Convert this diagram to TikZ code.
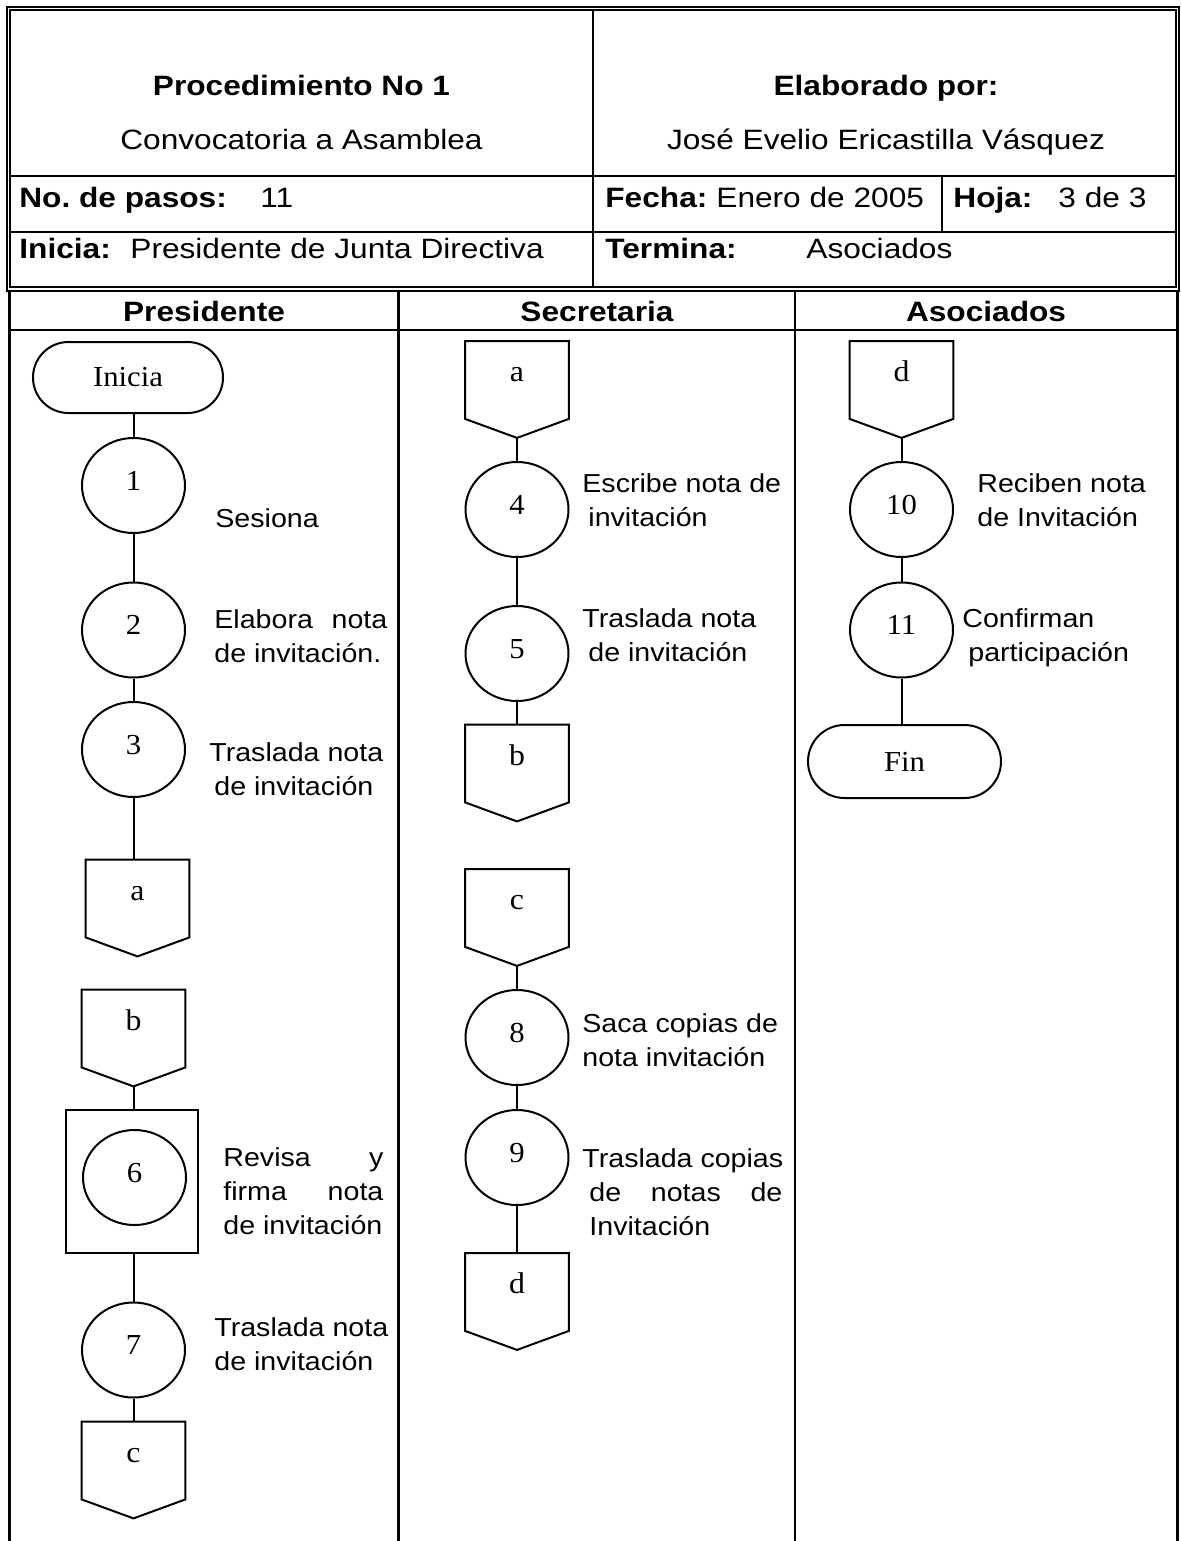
\documentclass[tikz,border=0pt]{standalone}
\usepackage{fontspec}
\setmainfont{Liberation Sans}
\newfontfamily\hdfont{Liberation Sans}[FakeStretch=1.13]
\newfontfamily\lanefont{Liberation Sans}[FakeStretch=1.1]
\newfontfamily\serfont{Liberation Serif}[FakeStretch=1.06]
\usetikzlibrary{shapes.geometric,shapes.misc}
\frenchspacing
\begin{document}
\begin{tikzpicture}[x=0.5pt,y=-0.5pt,
  tline/.style={line width=1.3pt},
  dline/.style={line width=1pt},
  shp/.style={line width=1pt},
  hd/.style={font=\hdfont\fontsize{14}{17}\selectfont, inner sep=0pt, text height=10pt, text depth=0pt},
  hdb/.style={hd, font=\hdfont\bfseries\fontsize{14}{17}\selectfont},
  stp/.style={ellipse, draw, line width=1pt, minimum width=51.5pt, minimum height=47.5pt, inner sep=0pt,
    font=\serfont\fontsize{14.5}{17}\selectfont, text depth=5pt},
  term/.style={rounded rectangle, draw, line width=1pt, minimum width=95pt, minimum height=35.5pt, inner sep=0pt,
    font=\serfont\fontsize{14.5}{17}\selectfont},
  offpg/.style={rectangle, minimum width=51.5pt, minimum height=48pt, inner sep=0pt,
    font=\serfont\fontsize{15}{17}\selectfont, text height=10pt, text depth=18pt},
  dsc/.style={font=\lanefont\fontsize{13}{17}\selectfont, align=left, anchor=north west, inner sep=0pt}
]
\useasboundingbox (0,0) rectangle (1181,1541);
\fill[white] (0,0) rectangle (1181,1541);

% header frame
\draw[dline] (6.5,7) rectangle (1179,290.5);
\draw[dline] (10,10.5) rectangle (1175.5,287);
\draw[tline] (593,10.5) -- (593,287);
\draw[tline] (10,176) -- (1175.5,176);
\draw[tline] (10,232) -- (1175.5,232);
\draw[tline] (942,176) -- (942,232);

% swimlanes
\draw[tline] (9.5,290.5) -- (9.5,1541);
\draw[tline] (1177.5,290.5) -- (1177.5,1541);
\draw[tline] (9.5,330) -- (1177.5,330);
\draw[tline] (398.5,290.5) -- (398.5,1541);
\draw[tline] (795,290.5) -- (795,1541);

% header texts
\node[hdb] (t1) at (301.5,86) {Procedimiento No 1};
\node[hd] (t2) at (301.5,139) {Convocatoria a Asamblea};
\node[hdb] (t3) at (886,86) {Elaborado por:};
\node[hd] (t4) at (886,139) {José Evelio Ericastilla Vásquez};
\node[hdb, anchor=west] (t5) at (19,197) {No. de pasos:};
\node[hd, anchor=west] (t6) at (260,197) {11};
\node[hdb, anchor=west] (t7) at (605,197) {Fecha:};
\node[hd, anchor=west] (t8) at (716,197) {Enero de 2005};
\node[hdb, anchor=west] (t9) at (953,197) {Hoja:};
\node[hd, anchor=west] (t10) at (1058,197) {3 de 3};
\node[hdb, anchor=west] (t11) at (19,248) {Inicia:};
\node[hd, anchor=west] (t12) at (130,248) {Presidente de Junta Directiva};
\node[hdb, anchor=west] (t13) at (605,248) {Termina:};
\node[hd, anchor=west] (t14) at (806,248) {Asociados};
\node[hdb] (l1) at (204,311) {Presidente};
\node[hdb] (l2) at (597,311) {Secretaria};
\node[hdb] (l3) at (986,311) {Asociados};

% Presidente lane
\node[term] (start) at (128,377.5) {Inicia};
\node[stp] (p1) at (133.5,485.5) {1};
\node[stp] (p2) at (133.5,630) {2};
\node[stp] (p3) at (133.5,749.5) {3};
\node[offpg] (pa) at (137.5,908) {a};
\node[offpg] (pb) at (133.5,1038) {b};
\node[draw, shp, minimum width=66pt, minimum height=71.5pt, inner sep=0pt] (p6box) at (132,1181.5) {};
\node[stp] (p6) at (134.5,1177.5) {6};
\node[stp] (p7) at (133.5,1350) {7};
\node[offpg] (pc) at (133.5,1470) {c};

\draw[shp] (start.south -| p1) -- (p1.north);
\draw[shp] (p1.south) -- (p2.north);
\draw[shp] (p2.south) -- (p3.north);
\draw[shp] (p3.south) -- (p3.south |- pa.north);
\draw[shp] (pb.south) -- (pb.south |- p6box.north);
\draw[shp] (p6box.south -| p7) -- (p7.north);
\draw[shp] (p7.south) -- (p7.south |- pc.north);

% Secretaria lane
\node[offpg] (sa) at (517,389.5) {a};
\node[stp] (s4) at (517,509.5) {4};
\node[stp] (s5) at (517,653.5) {5};
\node[offpg] (sb) at (517,773) {b};
\node[offpg] (sc) at (517,917.5) {c};
\node[stp] (s8) at (517,1037.5) {8};
\node[stp] (s9) at (517,1157.5) {9};
\node[offpg] (sd) at (517,1301.5) {d};

\draw[shp] (sa.south) -- (s4.north);
\draw[shp] (s4.south) -- (s5.north);
\draw[shp] (s5.south) -- (sb.north);
\draw[shp] (sc.south) -- (s8.north);
\draw[shp] (s8.south) -- (s9.north);
\draw[shp] (s9.south) -- (sd.north);

% Asociados lane
\node[offpg] (ad) at (901.5,389.5) {d};
\node[stp] (a10) at (901.5,509.5) {10};
\node[stp] (a11) at (901.5,630) {11};
\node[term, minimum width=96.5pt, minimum height=36.5pt] (fin) at (904.5,761.5) {Fin};

\draw[shp] (ad.south) -- (a10.north);
\draw[shp] (a10.south) -- (a11.north);
\draw[shp] (a11.south) -- (a11.south |- fin.north);

% off-page connector outlines
\foreach \n in {pa,pb,pc,sa,sb,sc,sd,ad}
  \draw[shp] (\n.north west) -- (\n.north east) -- ([yshift=9.5pt]\n.south east)
    -- (\n.south) -- ([yshift=9.5pt]\n.south west) -- cycle;

% descriptions
\node[dsc] (d1) at (215,508.7) {Sesiona};
\node[dsc] (d2) at (214,609.7) {\hbox to 86.5pt{Elabora\hfill nota}\\de invitación.};
\node[dsc] (d3) at (209,742.7) {Traslada nota\\\hspace*{2.5pt}de invitación};
\node[dsc] (d6) at (223,1147.7) {\hbox to 80pt{Revisa\hfill y}\\\hbox to 80pt{firma\hfill nota}\\de invitación};
\node[dsc] (d7) at (214,1317.7) {Traslada nota\\de invitación};
\node[dsc] (d4) at (582,473.7) {Escribe nota de\\\hspace*{3pt}invitación};
\node[dsc] (d5) at (582,608.7) {Traslada nota\\\hspace*{3pt}de invitación};
\node[dsc] (d8) at (582,1013.7) {Saca copias de\\nota invitación};
\node[dsc] (d9) at (582,1148.7) {Traslada copias\\\hspace*{3.5pt}\hbox to 96.5pt{de\hfill notas\hfill de}\\\hspace*{3.5pt}Invitación};
\node[dsc] (d10) at (977,473.7) {Reciben nota\\de Invitación};
\node[dsc] (d11) at (962,608.7) {Confirman\\\hspace*{3pt}participación};
\end{tikzpicture}
\end{document}
